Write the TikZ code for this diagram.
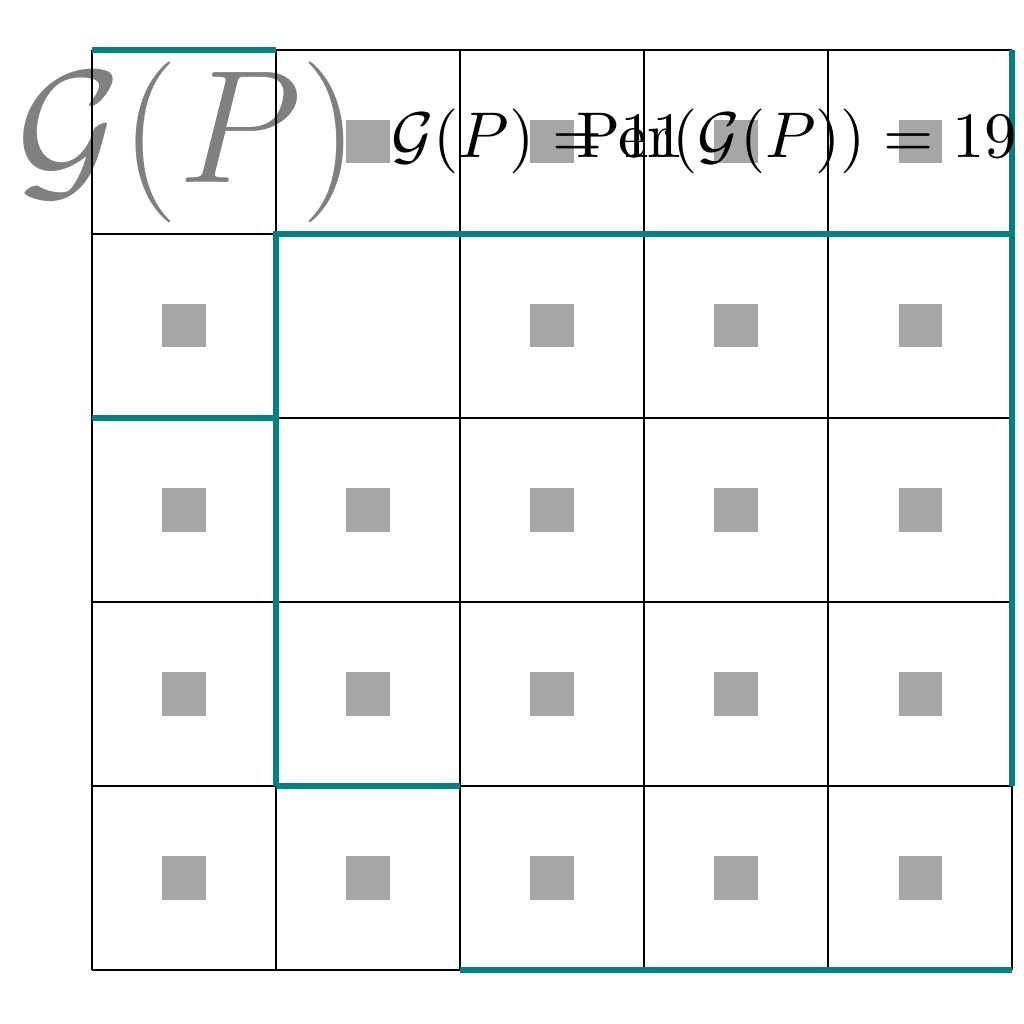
\documentclass[tikz,border=0pt]{standalone}
\begin{document}
\begin{tikzpicture}[x=1cm,y=1cm,
  gridline/.style={black,line width=0.45pt},
  tealline/.style={draw={rgb,255:red,0;green,128;blue,128},line width=0.8pt},
  dot/.style={fill={rgb,255:red,166;green,166;blue,166},draw=none,minimum size=0.234cm,inner sep=0pt},
  bigtext/.style={text={rgb,255:red,128;green,128;blue,128},inner sep=0pt,anchor=base west,font=\fontsize{24.7pt}{30pt}\selectfont},
  smalltext/.style={inner sep=0pt,anchor=base west,font=\fontsize{10pt}{12pt}\selectfont}]
\useasboundingbox (-0.5,-0.2935) rectangle (5.0652,5.2717);
% big label
\node[bigtext] (title) at (-0.42,4.277) {$\mathcal{G}(P)$};
% grid
\draw[gridline] (0,0) grid (5,5);
% gray squares
\foreach \i in {0,...,4}{
  \foreach \j in {0,...,4}{
    \pgfmathtruncatemacro{\skip}{(\i==0 && \j==4) || (\i==1 && \j==3) ? 1 : 0}
    \ifnum\skip=0
      \node[dot] (d\i\j) at (\i+0.5,\j+0.5) {};
    \fi
  }
}
% teal segments
\draw[tealline] (0,5) -- (1,5);
\draw[tealline] (1,1) -- (1,4) -- (5,4);
\draw[tealline] (0,3) -- (1,3);
\draw[tealline] (5,5) -- (5,1);
\draw[tealline] (1,1) -- (2,1);
\draw[tealline] (2,0) -- (5,0);
% labels
\node[smalltext] (area) at (1.62,4.413) {$\mathcal{G}(P) = 11$};
\node[smalltext] (per) at (2.625,4.413) {$\mathrm{Per}(\mathcal{G}(P)) = 19$};
\end{tikzpicture}
\end{document}
